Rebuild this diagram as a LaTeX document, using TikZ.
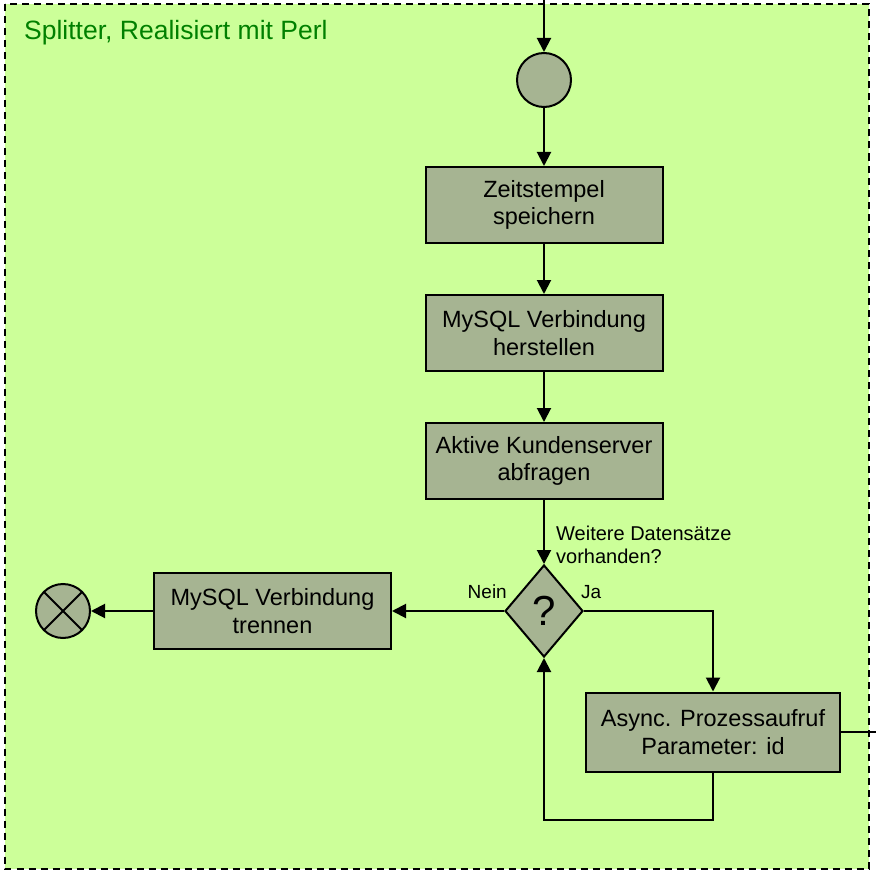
\documentclass[tikz,border=0pt]{standalone}
\usepackage{fontspec}
\setmainfont{Liberation Sans}
\usepackage{tikz}
\usetikzlibrary{positioning,shapes.geometric,arrows.meta}
\definecolor{hintergrund}{RGB}{204,255,153}
\definecolor{knoten}{RGB}{166,180,146}
\definecolor{titelgruen}{RGB}{0,128,0}

\begin{document}
\begin{tikzpicture}[x=1pt,y=-1pt,every node/.style={align=center},
	aktion/.style={draw,line width=2pt,fill=knoten,minimum width=237pt,minimum height=76pt,inner sep=0pt,font=\fontsize{23.5}{27.5}\selectfont},
	punkt/.style={circle,draw,line width=2pt,fill=knoten,minimum size=54pt,inner sep=0pt},
	ende/.style={punkt,path picture={\draw[line width=2pt] (path picture bounding box.north west) -- (path picture bounding box.south east) (path picture bounding box.north east) -- (path picture bounding box.south west);}},
	frage/.style={diamond,draw,line width=2pt,fill=knoten,minimum width=78pt,minimum height=92pt,inner sep=0pt,font=\fontsize{42}{46}\selectfont},
	hinweis/.style={inner sep=0pt,align=left,font=\fontsize{20}{23}\selectfont},
	pfeil/.style={line width=2pt,-{Triangle[length=14pt,width=14pt]}}]
			\useasboundingbox (0,0) rectangle (876,872);
			\fill[hintergrund] (4.5,4.5) rectangle (868.5,868.5);
			\draw[line width=2pt,dash pattern=on 7pt off 5pt] (4.5,4.5) rectangle (868.5,868.5);
			\node[anchor=base west,inner sep=0pt,text=titelgruen,font=\fontsize{26.5}{31}\selectfont] (titel) at (24,40) {Splitter, Realisiert mit Perl};
			\coordinate (eingang) at (544,0);
			\coordinate (ausgang) at (876,732);
			\node[punkt] (start) at (544,80) {};
			\node[aktion,below=58pt of start] (zeit) {Zeitstempel\\speichern};
			\node[aktion,below=50pt of zeit] (herstellen) {MySQL Verbindung\\herstellen};
			\node[aktion,below=50pt of herstellen] (kunden) {Aktive Kundenserver\\abfragen};
			\node[frage,below=64pt of kunden] (weitere) {?};
			\node[aktion,left=112pt of weitere] (trennen) {MySQL Verbindung\\trennen};
			\node[ende,left=62pt of trennen] (stopp) {};
			\node[aktion,minimum width=254pt,minimum height=79pt] (aufruf) at (713,732) {Async. Prozessaufruf\\Parameter: id};
			\node[hinweis,anchor=west] (frage text) at ([xshift=12pt,yshift=19pt]weitere.north) {Weitere Datens\"atze\\vorhanden?};
			\node[hinweis,anchor=base west,font=\fontsize{19}{22}\selectfont] (ja) at ([xshift=-3pt,yshift=13pt]weitere.east) {Ja};
			\node[hinweis,anchor=base east,font=\fontsize{19}{22}\selectfont] (nein) at ([xshift=3pt,yshift=13pt]weitere.west) {Nein};
			\draw[pfeil] (eingang) -- (start);
			\draw[pfeil] (start) -- (zeit);
			\draw[pfeil] (zeit) -- (herstellen);
			\draw[pfeil] (herstellen) -- (kunden);
			\draw[pfeil] (kunden) -- (weitere);
			\draw[pfeil] (weitere) -- (trennen);
			\draw[pfeil] (trennen) -- (stopp);
			\draw[pfeil] (weitere.east) -| (aufruf.north);
			\draw[pfeil] (aufruf.south) -- ++(0,47) -| (weitere.south);
			\draw[line width=2pt] (aufruf.east) -- (ausgang);
		\end{tikzpicture}
\end{document}
